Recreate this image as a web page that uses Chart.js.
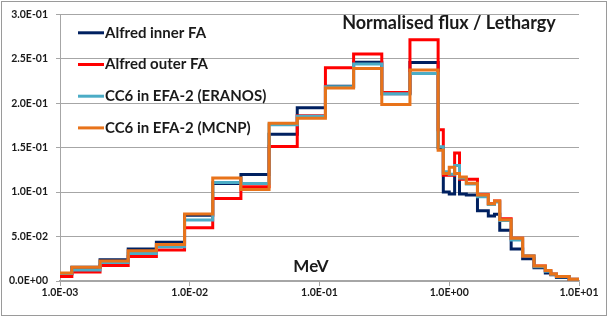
<!DOCTYPE html>
<html>
<head>
<meta charset="utf-8">
<title>Normalised flux / Lethargy</title>
<script src="https://cdn.jsdelivr.net/npm/chart.js@4.4.1/dist/chart.umd.min.js"></script>
<style>
    html, body { margin: 0; padding: 0; background: #fff; }
    #wrap { width: 610px; height: 318px; }
</style>
</head>
<body>
<div id="wrap"><canvas id="fluxChart" width="610" height="318"></canvas></div>
<script>
// ==========================
// DATA
// ==========================

// group boundaries (MeV), lowest first
const binEdges = [
    1.0e-3, 1.2341e-3, 2.0347e-3, 3.3546e-3, 5.5308e-3, 9.1188e-3,
    1.5034e-2, 2.4788e-2, 4.0868e-2, 6.7379e-2, 1.1109e-1, 1.8316e-1,
    3.0197e-1, 4.9787e-1, 8.2085e-1, 0.9, 1.0, 1.1, 1.2, 1.3534,
    1.65, 2.0, 2.2313, 2.45, 3.0, 3.6788, 4.5, 5.5, 6.0653, 6.7, 8.4, 10.0
];

const seriesNames = [
    'Alfred inner FA',
    'Alfred outer FA',
    'CC6 in EFA-2 (ERANOS)',
    'CC6 in EFA-2 (MCNP)'
];

// flux per lethargy, one value per group
const alfredInner = [
    0.008, 0.0155, 0.024, 0.036, 0.0436, 0.074, 0.1096, 0.1197, 0.165, 0.1948,
    0.219, 0.246, 0.2105, 0.2458, 0.150, 0.100, 0.098, 0.121, 0.098, 0.0966,
    0.079, 0.073, 0.075, 0.057, 0.036, 0.0249, 0.015, 0.009, 0.007, 0.004, 0.0015
];

const alfredOuter = [
    0.005, 0.010, 0.0174, 0.0275, 0.035, 0.060, 0.0928, 0.106, 0.1514, 0.186,
    0.240, 0.2553, 0.212, 0.2713, 0.170, 0.119, 0.119, 0.144, 0.1145, 0.1145,
    0.097, 0.087, 0.090, 0.070, 0.048, 0.028, 0.017, 0.0115, 0.008, 0.005, 0.002
];

const cc6Eranos = [
    0.0085, 0.0125, 0.0207, 0.031, 0.0386, 0.0686, 0.1107, 0.1096, 0.1757, 0.1854,
    0.2186, 0.244, 0.2105, 0.2335, 0.151, 0.123, 0.120, 0.130, 0.116, 0.109,
    0.0947, 0.086, 0.089, 0.068, 0.046, 0.028, 0.016, 0.011, 0.0075, 0.0048, 0.002
];

const cc6Mcnp = [
    0.0089, 0.0156, 0.0226, 0.034, 0.041, 0.0753, 0.116, 0.103, 0.1775, 0.183,
    0.217, 0.239, 0.1985, 0.2373, 0.147, 0.121, 0.128, 0.121, 0.117, 0.110,
    0.0966, 0.087, 0.090, 0.069, 0.048, 0.028, 0.017, 0.0118, 0.008, 0.005, 0.002
];

const xTickValues = [1e-3, 1e-2, 1e-1, 1, 10];
const yMax = 0.3;
const yStep = 0.05;

const seriesColors = ['#002060', '#FF0000', '#4BACC6', '#E8731A'];

// ==========================
// HELPERS
// ==========================

// 0.05 -> "5.0E-02"
function sci(v) {
    if (Math.abs(v) < 1e-12) return '0.0E+00';
    const e = Math.floor(Math.log10(Math.abs(v)) + 1e-9);
    const m = v / Math.pow(10, e);
    return m.toFixed(1) + 'E' + (e < 0 ? '-' : '+') +
        String(Math.abs(e)).padStart(2, '0');
}

// histogram points: one per lower edge, last one closes the final group
function steps(values) {
    return binEdges.map((edge, i) => ({
        x: edge,
        y: values[Math.min(i, values.length - 1)]
    }));
}

const labelFont = 'Lato, "Open Sans", sans-serif';

const insideText = {
    id: 'insideText',
    afterDraw(chart) {
        const { ctx, chartArea } = chart;
        ctx.save();

        // legend, top left of the plot
        ctx.font = 'bold 15px ' + labelFont;
        ctx.textBaseline = 'middle';
        ctx.textAlign = 'left';
        chart.data.datasets.forEach((ds, i) => {
            const y = chartArea.top + 18.5 + i * 31.7;
            ctx.strokeStyle = ds.borderColor;
            ctx.lineWidth = 3;
            ctx.beginPath();
            ctx.moveTo(chartArea.left + 18, y);
            ctx.lineTo(chartArea.left + 44, y);
            ctx.stroke();
            ctx.fillStyle = '#1a1a1a';
            ctx.fillText(ds.label, chartArea.left + 45, y);
        });

        // title inside the plot
        ctx.font = 'bold 18px ' + labelFont;
        ctx.textAlign = 'center';
        ctx.fillText('Normalised flux / Lethargy', 449, 23);

        // axis name
        ctx.font = 'bold 17px ' + labelFont;
        ctx.fillText('MeV', 311, 267);

        // outer frame
        ctx.strokeStyle = '#9a9a9a';
        ctx.lineWidth = 1;
        ctx.strokeRect(1.5, 1.5, 605, 314);

        ctx.restore();
    }
};

// ==========================
// CHART
// ==========================

const datasets = [alfredInner, alfredOuter, cc6Eranos, cc6Mcnp].map((vals, i) => ({
    label: seriesNames[i],
    data: steps(vals),
    borderColor: seriesColors[i],
    backgroundColor: seriesColors[i],
    borderWidth: 3,
    stepped: 'before',
    pointRadius: 0,
    fill: false,
    order: 4 - i
}));

new Chart(document.getElementById('fluxChart'), {
    type: 'line',
    data: { datasets },
    options: {
        responsive: false,
        animation: false,
        devicePixelRatio: 1,
        layout: { padding: { top: 13, right: 31, left: 0, bottom: 0 } },
        plugins: {
            legend: { display: false },
            tooltip: { enabled: false }
        },
        scales: {
            x: {
                type: 'logarithmic',
                min: xTickValues[0],
                max: xTickValues[xTickValues.length - 1],
                afterBuildTicks: (scale) => {
                    scale.ticks = xTickValues.map(v => ({ value: v }));
                },
                afterFit: (scale) => { scale.height = 37; },
                grid: {
                    drawOnChartArea: false,
                    drawTicks: true,
                    tickLength: 5,
                    color: '#a6a6a6'
                },
                border: { color: '#a6a6a6', width: 1.5 },
                ticks: {
                    autoSkip: false,
                    maxRotation: 0,
                    padding: 0,
                    color: '#1a1a1a',
                    font: { family: labelFont, size: 10.5, weight: 'bold' },
                    callback: (v) => sci(v)
                }
            },
            y: {
                min: 0,
                max: yMax,
                afterFit: (scale) => { scale.width = 60; },
                grid: {
                    color: '#a6a6a6',
                    tickLength: 4
                },
                border: { color: '#a6a6a6' },
                ticks: {
                    stepSize: yStep,
                    padding: 8,
                    color: '#1a1a1a',
                    font: { family: labelFont, size: 10.5, weight: 'bold' },
                    callback: (v) => sci(v)
                }
            }
        }
    },
    plugins: [insideText]
});
</script>
</body>
</html>
